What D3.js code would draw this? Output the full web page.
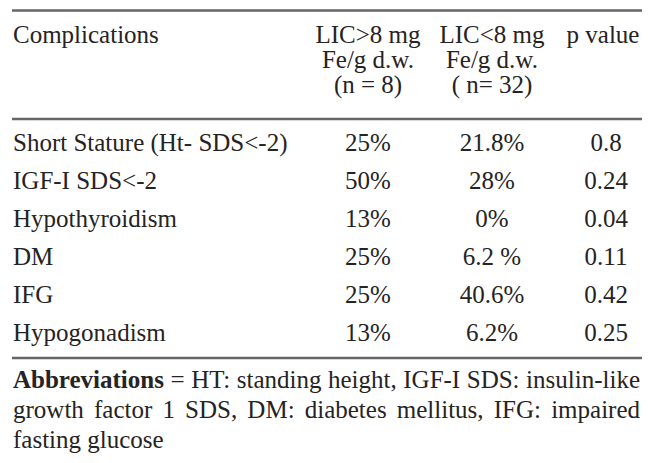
<!DOCTYPE html>
<html><head><meta charset="utf-8">
<script src="https://cdn.jsdelivr.net/npm/d3@7"></script>
<style>
html,body{margin:0;padding:0;background:#fff;}
svg{display:block;}
text{font-family:"Liberation Serif","Times New Roman",serif;fill:#262324;}
</style></head>
<body>
<script>
const headerCols = ["Complications", "LIC>8 mg|Fe/g d.w.|(n = 8)", "LIC<8 mg|Fe/g d.w.|( n= 32)", "p value"];
const complications = ["Short Stature (Ht- SDS<-2)", "IGF-I SDS<-2", "Hypothyroidism", "DM", "IFG", "Hypogonadism"];
const licHigh = ["25%", "50%", "13%", "25%", "25%", "13%"];
const licLow = ["21.8%", "28%", "0%", "6.2 %", "40.6%", "6.2%"];
const pValues = ["0.8", "0.24", "0.04", "0.11", "0.42", "0.25"];
const footLines = [
  "**Abbreviations** = HT: standing height, IGF-I SDS: insulin-like",
  "growth factor 1 SDS, DM: diabetes mellitus, IFG: impaired",
  "fasting glucose"
];

const W = 648, H = 463;
const fs = 25;
const left = 12, right = 642;
const svg = d3.select("body").append("svg").attr("width", W).attr("height", H);

const colX = d3.scaleOrdinal().domain([0,1,2,3]).range([13, 368, 492, 603]);
const colAnchor = ["start", "middle", "middle", "middle"];
const rowY = d3.scalePoint().domain(d3.range(complications.length)).range([151, 341]);

const lineCol = "#666";
function hline(y){ svg.append("line").attr("x1", left).attr("x2", right).attr("y1", y).attr("y2", y).attr("stroke", lineCol).attr("stroke-width", 2.4); }
hline(10.5); hline(119); hline(358);

// header
const hdrY = d3.scalePoint().domain([0,1,2]).range([43, 93]);
headerCols.forEach((h, c) => {
  h.split("|").forEach((ln, i) => {
    svg.append("text").attr("x", colX(c)).attr("y", hdrY(i))
      .attr("text-anchor", colAnchor[c]).attr("font-size", fs).text(ln);
  });
});

const rows = complications.map((d, i) => [d, licHigh[i], licLow[i], pValues[i]]);
rows.forEach((r, i) => {
  r.forEach((v, c) => {
    svg.append("text").attr("x", colX(c) + (c === 3 ? 3 : 0)).attr("y", rowY(i))
      .attr("text-anchor", colAnchor[c]).attr("font-size", fs).text(v);
  });
});

// footnote, justified
const footY = d3.scalePoint().domain([0,1,2]).range([388, 448]);
const meas = svg.append("text").attr("font-size", fs).attr("x", -1000).attr("y", -1000);
function wWidth(w){ meas.attr("font-weight", w.b ? "bold" : "normal").text(w.t); return meas.node().getComputedTextLength(); }
const spaceW = (function(){ meas.text("a a"); const a = meas.node().getComputedTextLength(); meas.text("aa"); return a - meas.node().getComputedTextLength(); })();
const x0 = 13, x1 = 640;
footLines.forEach((line, li) => {
  const words = line.split(" ").map(t => {
    const b = t.startsWith("**");
    return {t: t.replace(/\*\*/g, ""), b};
  });
  words.forEach(w => w.w = wWidth(w));
  const total = d3.sum(words, w => w.w);
  const last = li === footLines.length - 1;
  const gap = (!last && words.length > 1) ? (x1 - x0 - total) / (words.length - 1) : spaceW;
  let x = x0;
  words.forEach(w => {
    svg.append("text").attr("x", x).attr("y", footY(li)).attr("font-size", fs)
      .attr("font-weight", w.b ? "bold" : "normal").text(w.t);
    x += w.w + gap;
  });
});
meas.remove();
</script>
</body></html>
